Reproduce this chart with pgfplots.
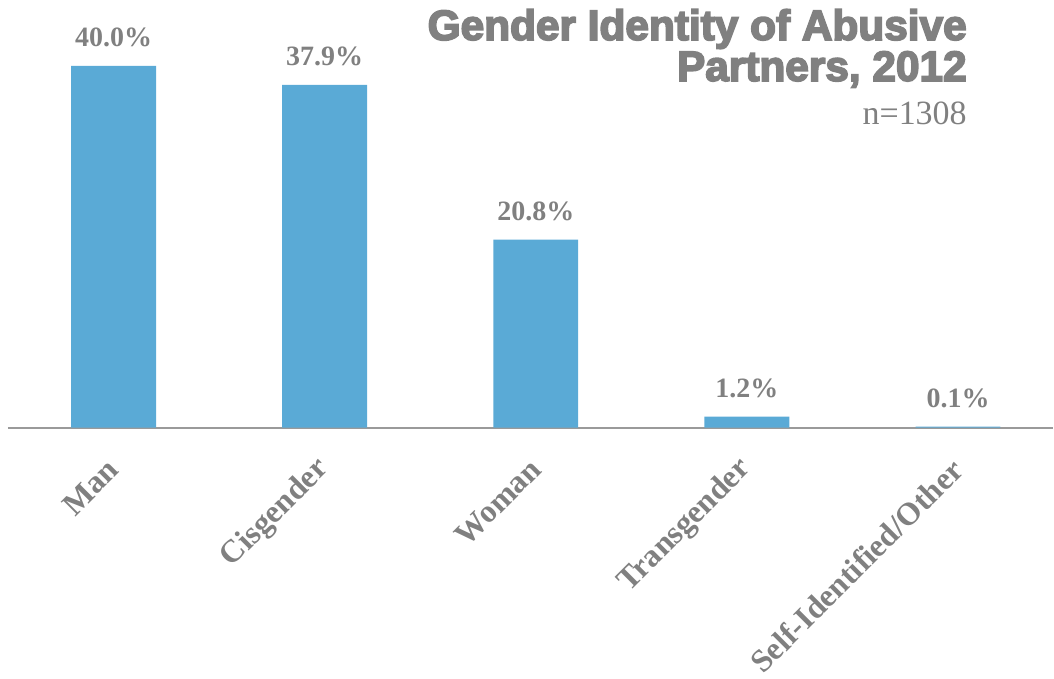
\documentclass[border=0pt]{standalone}
\usepackage{pgfplots}
\pgfplotsset{compat=1.18}
\usepackage{fontspec}
\setmainfont{Liberation Serif}
\newfontfamily\titlefont{Liberation Sans}[BoldFeatures={FakeBold=4}]
\definecolor{barblue}{HTML}{5AAAD6}
\definecolor{txtgray}{HTML}{808080}
\definecolor{axgray}{HTML}{9A9A9A}
\begin{document}
\begin{tikzpicture}
\begin{axis}[
  scale only axis,
  width=523pt, height=214pt,
  xmin=-0.5, xmax=4.45,
  ymin=0, ymax=47.3,
  axis x line*=bottom,
  axis y line=none,
  x axis line style={axgray, line width=1pt},
  xtick={0,1,2,3,4},
  xticklabels={Man,Cisgender,Woman,Transgender,Self-Identified/Other},
  major tick length=0pt,
  xticklabel style={font=\fontsize{16}{17}\selectfont\bfseries, text=txtgray, rotate=45, anchor=east, inner sep=0pt, yshift=-13pt, xshift=-13pt},
  ybar, bar width=42.5pt,
  /pgf/number format/assume math mode=true,
  nodes near coords={\pgfmathprintnumber[fixed,fixed zerofill,precision=1]{\pgfplotspointmeta}\%},
  every node near coord/.append style={font=\fontsize{14}{15}\selectfont\bfseries, text=txtgray, yshift=6pt},
  clip=false,
]
\addplot[fill=barblue, draw=none] coordinates {(0,40.0) (1,37.9) (2,20.8) (3,1.2) (4,0.1)};
\end{axis}
\node[anchor=base east, text=txtgray, inner sep=0pt, font=\titlefont\bfseries\fontsize{21.2}{22}\selectfont] at (480pt,194pt) {Gender Identity of Abusive};
\node[anchor=base east, text=txtgray, inner sep=0pt, font=\titlefont\bfseries\fontsize{21.2}{22}\selectfont] at (480pt,173.5pt) {Partners, 2012};
\node[anchor=base east, text=txtgray, inner sep=0pt, font=\fontsize{17}{18}\selectfont] at (480pt,151.5pt) {n=1308};
\path[use as bounding box] (-4pt,-125.5pt) rectangle (523pt,214pt);
\end{tikzpicture}
\end{document}
